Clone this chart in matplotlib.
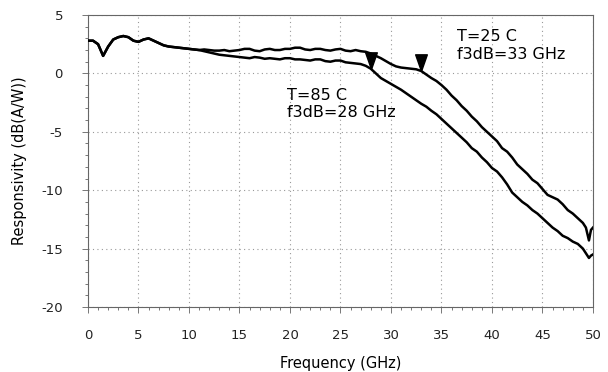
import numpy as np
import matplotlib
matplotlib.use("Agg")
import matplotlib.pyplot as plt
from matplotlib.path import Path

# Photodetector responsivity vs. frequency at two temperatures
freq = [0, 0.5, 1, 1.5, 2, 2.5, 3, 3.5, 4, 4.5, 5, 5.5, 6, 6.5, 7, 7.5, 8, 9, 10,
        11, 11.5, 12, 12.5, 13, 13.5, 14, 14.5, 15, 15.5, 16, 16.5, 17, 17.5,
        18, 18.5, 19, 19.5, 20, 20.5, 21, 21.5, 22, 22.5, 23, 23.5, 24, 24.5,
        25, 25.5, 26, 26.5, 27, 27.5, 28, 28.5, 29, 29.5, 30, 30.5, 31, 31.5,
        32, 32.5, 33, 33.5, 34, 34.5, 35, 35.5, 36, 36.5, 37, 37.5, 38, 38.5,
        39, 39.5, 40, 40.5, 41, 41.5, 42, 42.5, 43, 43.5, 44, 44.5, 45, 45.5,
        46, 46.5, 47, 47.5, 48, 48.5, 49,
        49.3, 49.6, 49.8, 50]

resp_25c = [2.8, 2.8, 2.5, 1.5, 2.3, 2.9, 3.1, 3.2, 3.1, 2.8, 2.7, 2.9, 3.0, 2.8, 2.6,
            2.4, 2.3, 2.2, 2.1,
            2.0, 2.05, 2.0, 1.95, 1.95, 2.0, 1.9, 1.95, 2.0, 2.1, 2.1, 1.95, 1.9, 2.05,
            2.1, 2.0, 2.0, 2.1, 2.1, 2.2, 2.2, 2.05, 2.0, 2.1, 2.1, 2.0, 1.95, 2.05,
            2.1, 1.95, 1.9, 2.0, 1.9, 1.85, 1.7, 1.5, 1.3, 1.05, 0.8, 0.6, 0.5, 0.45,
            0.4, 0.35, 0.2, -0.1, -0.4, -0.65, -1.0, -1.4, -1.9, -2.3, -2.8, -3.2, -3.7, -4.1,
            -4.6, -5.0, -5.4, -5.8, -6.4, -6.7, -7.2, -7.8, -8.2, -8.6, -9.1, -9.4, -9.9, -10.4,
            -10.6, -10.8, -11.2, -11.7, -12.0, -12.4, -12.8,
            -13.2, -14.3, -13.4, -13.2]

resp_85c = [2.8, 2.8, 2.5, 1.5, 2.3, 2.9, 3.1, 3.2, 3.1, 2.8, 2.7, 2.9, 3.0, 2.8, 2.6,
            2.4, 2.3, 2.2, 2.1,
            2.0, 1.9, 1.8, 1.7, 1.6, 1.55, 1.5, 1.45, 1.4, 1.35, 1.3, 1.4, 1.35, 1.25,
            1.3, 1.25, 1.2, 1.3, 1.3, 1.2, 1.2, 1.15, 1.1, 1.2, 1.2, 1.05, 1.0, 1.1,
            1.1, 0.95, 0.9, 0.85, 0.8, 0.65, 0.4, 0.0, -0.4, -0.65, -0.9, -1.15, -1.4, -1.7,
            -2.0, -2.3, -2.6, -2.85, -3.2, -3.5, -3.9, -4.3, -4.7, -5.1, -5.5, -5.9, -6.4, -6.7,
            -7.2, -7.6, -8.1, -8.4, -8.9, -9.5, -10.2, -10.6, -11.0, -11.3, -11.7, -12.0, -12.4, -12.8,
            -13.2, -13.5, -13.9, -14.1, -14.4, -14.6, -15.0,
            -15.4, -15.8, -15.6, -15.5]

f3db_25c = 33
f3db_85c = 28

xticks = [0, 5, 10, 15, 20, 25, 30, 35, 40, 45, 50]
yticks = [5, 0, -5, -10, -15, -20]

plt.rcParams["axes.unicode_minus"] = False
plt.rcParams["font.family"] = ["DejaVu Sans"]

fig = plt.figure(figsize=(6.08, 3.72), dpi=100)
ax = fig.add_axes([0.1447, 0.1747, 0.8306, 0.785])

ax.plot(freq, resp_25c, color="black", lw=1.8, zorder=3)
ax.plot(freq, resp_85c, color="black", lw=1.8, zorder=3)

# down-pointing triangle whose tip sits on the curve
tri = Path([(-0.35, 1.0), (0.35, 1.0), (0.0, 0.0), (-0.35, 1.0)],
           [Path.MOVETO, Path.LINETO, Path.LINETO, Path.CLOSEPOLY])
for f, curve in ((f3db_25c, resp_25c), (f3db_85c, resp_85c)):
    ax.plot([f], [np.interp(f, freq, curve)], marker=tri, markersize=24,
            color="black", linestyle="none", zorder=4)

ax.text(36.5, 2.4, f"T=25 C\nf3dB={f3db_25c} GHz", fontsize=11.5,
        ha="left", va="center", linespacing=1.2)
ax.text(19.7, -2.6, f"T=85 C\nf3dB={f3db_85c} GHz", fontsize=11.5,
        ha="left", va="center", linespacing=1.2)

ax.set_xlim(0, 50)
ax.set_ylim(-20, 5)
ax.set_xticks(xticks)
ax.set_yticks(yticks)
ax.set_xticks(np.arange(0, 51, 1), minor=True)
ax.set_yticks(np.arange(-20, 6, 1), minor=True)
ax.tick_params(which="both", direction="out", color="#777", width=0.7,
               labelsize=9.5, labelcolor="#222")
ax.tick_params(which="major", length=4, pad=12)
ax.tick_params(which="minor", length=2.5)
ax.tick_params(axis="y", which="major", pad=14)

ax.grid(True, which="major", color="#999", linestyle=(0, (1, 3)), lw=0.8)
for side in ("left", "right", "top", "bottom"):
    ax.spines[side].set_linestyle((0, (1, 1)))
    ax.spines[side].set_color("#666")
    ax.spines[side].set_linewidth(0.8)

ax.set_xlabel("Frequency (GHz)", fontsize=10.5, labelpad=10)
ax.set_ylabel("Responsivity (dB(A/W))", fontsize=10.5, labelpad=10)

fig.savefig("out.png", dpi=100)
